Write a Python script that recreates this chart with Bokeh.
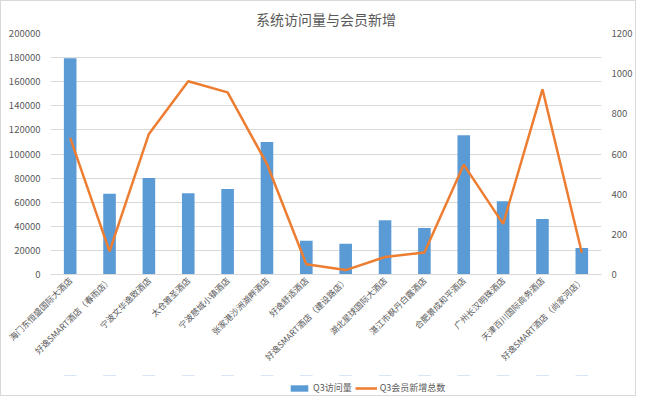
import math
from bokeh.plotting import figure
from bokeh.models import (ColumnDataSource, Range1d, LinearAxis, SingleIntervalTicker,
                          Legend, LegendItem, FactorRange, BasicTickFormatter)
from bokeh.layouts import column
from bokeh.embed import file_html
from bokeh.resources import INLINE

hotels = [
    "海门东恒盛国际大酒店",
    "好逸SMART酒店（春雨店）",
    "宁波文华逸致酒店",
    "太仓雅圣酒店",
    "宁波慈城小镇酒店",
    "张家港沙洲湖畔酒店",
    "好逸舒适酒店",
    "好逸SMART酒店（建设路店）",
    "湖北星球国际大酒店",
    "湛江市枫丹白露酒店",
    "合肥景成和平酒店",
    "广州长汉明珠酒店",
    "天津百川国际商务酒店",
    "好逸SMART酒店（尚家河店）",
]
visits = [179500, 67000, 80000, 67500, 71000, 110000, 28000, 25500, 45000, 38500, 115500, 60800, 46000, 22000]
new_members = [680, 115, 700, 962, 907, 550, 51, 22, 87, 110, 547, 252, 922, 108]

FONT = "Noto Sans CJK SC"
TXT = "#595959"
GRID = "#D9D9D9"
BLUE = "#5B9BD5"
ORANGE = "#ED7D31"

src = ColumnDataSource(dict(hotel=hotels, visits=visits, members=new_members))

p = figure(width=634, height=374, x_range=FactorRange(*hotels), y_range=Range1d(0, 200000),
           output_backend="svg", toolbar_location=None,
           min_border_left=49, min_border_right=30, min_border_top=30, min_border_bottom=101)
p.extra_y_ranges = {"right": Range1d(0, 1200)}

p.title.text = "系统访问量与会员新增"
p.title.align = "center"
p.title.text_font = FONT
p.title.text_font_size = "14px"
p.title.text_font_style = "normal"
p.title.text_color = TXT
p.title.offset = 0

p.outline_line_color = None
p.background_fill_color = "white"
p.border_fill_color = "white"

p.vbar(x="hotel", top="visits", width=0.32, source=src, fill_color=BLUE, line_color=None)
p.line(x="hotel", y="members", source=src, line_color=ORANGE, line_width=2.5, y_range_name="right")

p.xgrid.grid_line_color = None
p.ygrid.grid_line_color = GRID
p.ygrid.ticker = SingleIntervalTicker(interval=20000)

yl = p.yaxis[0]
yl.ticker = SingleIntervalTicker(interval=20000)
yl.formatter = BasicTickFormatter(use_scientific=False)
yl.axis_line_color = None
yl.major_tick_line_color = None
yl.minor_tick_line_color = None
yl.major_tick_out = 0
yl.major_tick_in = 0
yl.major_label_standoff = 6
yl.major_label_text_font = FONT
yl.major_label_text_font_size = "9.5px"
yl.major_label_text_color = TXT

yr = LinearAxis(y_range_name="right", ticker=SingleIntervalTicker(interval=200))
yr.formatter = BasicTickFormatter(use_scientific=False)
yr.axis_line_color = None
yr.major_tick_line_color = None
yr.minor_tick_line_color = None
yr.major_tick_out = 0
yr.major_tick_in = 0
yr.major_label_standoff = 6
yr.major_label_text_font = FONT
yr.major_label_text_font_size = "9.5px"
yr.major_label_text_color = TXT
p.add_layout(yr, "right")

xa = p.xaxis[0]
xa.axis_line_color = GRID
xa.major_tick_line_color = None
xa.major_tick_out = 0
xa.major_tick_in = 0
xa.major_label_orientation = math.pi / 4
xa.major_label_standoff = 4
xa.major_label_text_font = FONT
xa.major_label_text_font_size = "8.5px"
xa.major_label_text_color = TXT

# legend strip: a small axis-less figure whose ranges keep its glyphs out of view
lg = figure(width=634, height=20, x_range=FactorRange(*hotels), y_range=Range1d(-3e6, -2.99e6),
            output_backend="svg", toolbar_location=None,
            x_axis_location=None, y_axis_location=None,
            min_border_left=0, min_border_right=0, min_border_top=0, min_border_bottom=0)
lg.grid.visible = False
lg.outline_line_color = None
lg.background_fill_color = "white"
lg.border_fill_color = "white"
lbars = lg.vbar(x="hotel", top="visits", width=0.32, source=src, fill_color=BLUE, line_color=None)
lline = lg.line(x="hotel", y="members", source=src, line_color=ORANGE, line_width=2.5)

legend = Legend(items=[LegendItem(label="Q3访问量", renderers=[lbars]),
                       LegendItem(label="Q3会员新增总数", renderers=[lline])],
                location=(238, 1), orientation="horizontal",
                glyph_width=22, glyph_height=8, label_height=10, label_text_font=FONT,
                label_text_font_size="9px", label_text_color=TXT,
                border_line_color=None, background_fill_alpha=0,
                padding=2, spacing=3, label_standoff=3, margin=0)
lg.add_layout(legend)

layout = column(p, lg, spacing=0, styles={"border": "1px solid #D9D9D9"})

open("out.html", "w").write(file_html(layout, INLINE))
